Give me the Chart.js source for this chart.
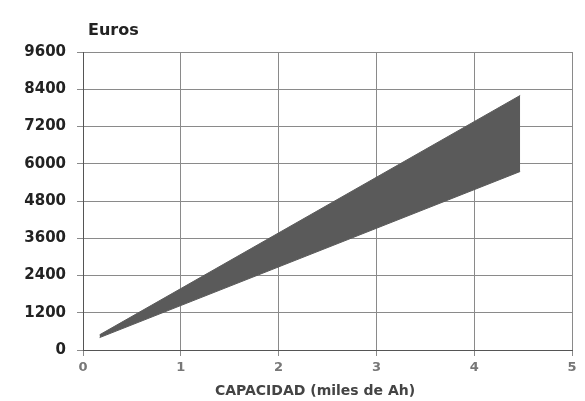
<!DOCTYPE html>
<html>
<head>
<meta charset="utf-8">
<script src="https://cdn.jsdelivr.net/npm/chart.js@4/dist/chart.umd.min.js"></script>
<style>
  html, body { margin: 0; padding: 0; background: #fff; }
  #wrap { width: 585px; height: 401px; }
</style>
</head>
<body>
<div id="wrap"><canvas id="chart" width="585" height="401"></canvas></div>
<script>
// capacity (thousands of Ah) and cost range (euros)
const capacidad = [0.17, 4.47];
const costeMax = [490, 8200];
const costeMin = [400, 5750];
const xTicks = [0, 1, 2, 3, 4, 5];
const yTicks = [0, 1200, 2400, 3600, 4800, 6000, 7200, 8400, 9600];

const bandColor = 'rgb(90,90,90)';
const fontFam = '"DejaVu Sans", Arial, sans-serif';

// "Euros" above the y axis and the x axis title
const textLabels = {
  id: 'textLabels',
  afterDraw(chart) {
    const ctx = chart.ctx;
    ctx.save();
    ctx.textBaseline = 'middle';
    ctx.font = 'bold 16px ' + fontFam;
    ctx.fillStyle = '#222';
    ctx.fillText('Euros', 88, 31);
    ctx.font = 'bold 14px ' + fontFam;
    ctx.fillStyle = '#444';
    ctx.textAlign = 'center';
    ctx.fillText('CAPACIDAD (miles de Ah)', 315, 391);
    ctx.restore();
  }
};

const ctx = document.getElementById('chart').getContext('2d');
new Chart(ctx, {
  type: 'line',
  data: {
    datasets: [
      {
        label: 'máximo',
        data: capacidad.map((x, i) => ({ x: x, y: costeMax[i] })),
        borderColor: bandColor,
        backgroundColor: bandColor,
        borderWidth: 1,
        pointRadius: 0,
        fill: '+1'
      },
      {
        label: 'mínimo',
        data: capacidad.map((x, i) => ({ x: x, y: costeMin[i] })),
        borderColor: bandColor,
        borderWidth: 1,
        pointRadius: 0,
        fill: false
      }
    ]
  },
  options: {
    responsive: false,
    animation: false,
    layout: { padding: { top: 52, right: 13, left: 0, bottom: 0 } },
    plugins: {
      legend: { display: false },
      tooltip: { enabled: false }
    },
    scales: {
      x: {
        type: 'linear',
        min: 0,
        max: 5,
        afterBuildTicks: (scale) => { scale.ticks = xTicks.map(v => ({ value: v })); },
        afterFit: (scale) => { scale.height = 51; },
        grid: { color: '#8a8a8a', lineWidth: 1, tickLength: 6 },
        border: { color: '#555', width: 1 },
        ticks: {
          color: '#777',
          padding: 4,
          callback: (v) => String(v),
          font: { family: fontFam, size: 13, weight: 'bold' }
        }
      },
      y: {
        min: 0,
        max: 9600,
        afterBuildTicks: (scale) => { scale.ticks = yTicks.map(v => ({ value: v })); },
        afterFit: (scale) => { scale.width = 83; },
        grid: { color: '#8a8a8a', lineWidth: 1, tickLength: 6 },
        border: { color: '#555', width: 1 },
        ticks: {
          color: '#222',
          padding: 11,
          callback: (v) => String(v),
          font: { family: fontFam, size: 15, weight: 'bold' }
        }
      }
    }
  },
  plugins: [textLabels]
});
</script>
</body>
</html>
